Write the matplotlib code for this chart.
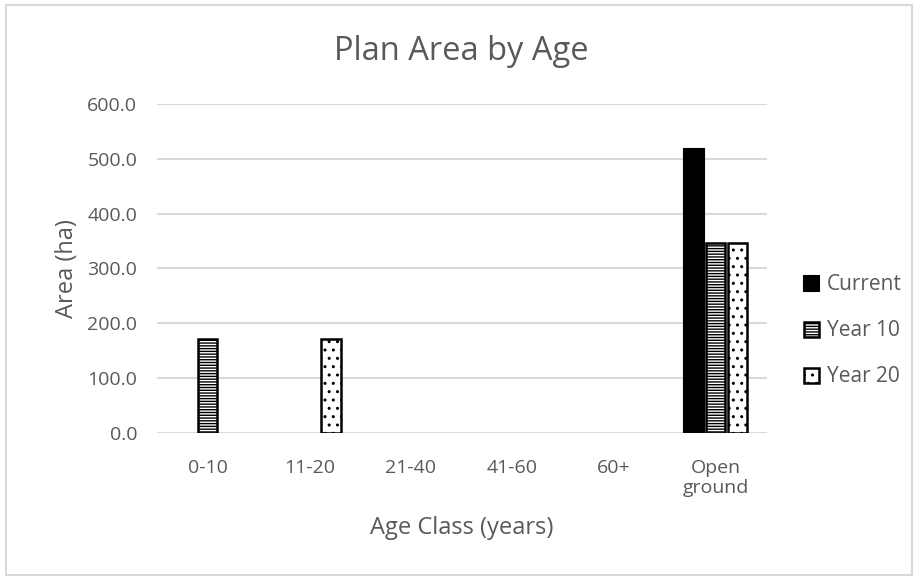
import numpy as np
import matplotlib as mpl
import matplotlib.pyplot as plt
from matplotlib.patches import Rectangle

mpl.rcParams['font.family'] = ['Open Sans', 'DejaVu Sans']
mpl.rcParams['hatch.linewidth'] = 1.0

categories = ['0-10', '11-20', '21-40', '41-60', '60+', 'Open\nground']
current = [0, 0, 0, 0, 0, 518]
year10 = [171, 0, 0, 0, 0, 347]
year20 = [0, 171, 0, 0, 0, 347]
series_names = ['Current', 'Year 10', 'Year 20']

def nz(vals):
    # empty classes get no bar at all (Excel draws nothing for 0)
    return [v if v else np.nan for v in vals]

grey = '#595959'
fig = plt.figure(figsize=(9.17, 5.78), dpi=100)
fig.patches.append(Rectangle((0.007, 0.005), 0.988, 0.986, transform=fig.transFigure,
                             fill=False, edgecolor='#d9d9d9', linewidth=1.5))
ax = fig.add_axes([0.171, 0.251, 0.665, 0.569])

x = np.arange(len(categories))
w = 0.19
off = 0.215
ax.bar(x - off, nz(current), w, color='black', edgecolor='black', linewidth=1.5, label=series_names[0])
ax.bar(x, nz(year10), w, color='white', edgecolor='black', hatch='------', linewidth=1.8, label=series_names[1])
ax.bar(x + off, nz(year20), w, color='white', edgecolor='black', hatch='..', linewidth=1.8, label=series_names[2])

ax.set_xlim(-0.5, len(categories) - 0.5)
ax.set_ylim(0, 600)
ax.set_yticks(np.linspace(0, 600, 7))
ax.set_yticklabels(['%.1f' % v for v in np.linspace(0, 600, 7)])
ax.set_xticks(x)
ax.set_xticklabels(categories, linespacing=1.1)
ax.yaxis.grid(True, color='#d9d9d9', linewidth=1.5)
ax.set_axisbelow(True)
for s in ax.spines.values():
    s.set_visible(False)
ax.tick_params(length=0, labelsize=14, colors=grey)
ax.tick_params(axis='x', pad=19)
ax.tick_params(axis='y', pad=14)

ax.set_title('Plan Area by Age', fontsize=23.5, color=grey, pad=32)
ax.set_xlabel('Age Class (years)', fontsize=17, color=grey, labelpad=14)
ax.set_ylabel('Area (ha)', fontsize=17, color=grey, labelpad=6)

leg = ax.legend(loc='center left', bbox_to_anchor=(1.03, 0.31), frameon=False,
                fontsize=15, labelcolor=grey, handlelength=0.75, handleheight=0.75,
                handletextpad=0.35, labelspacing=1.2)

fig.savefig('out.png', dpi=100)
